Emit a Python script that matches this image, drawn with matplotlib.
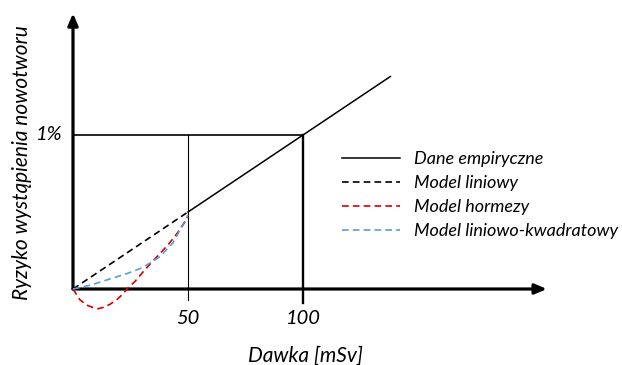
import matplotlib.pyplot as plt

# Data (dose in mSv, risk in %)
dose_emp = [50, 100, 138]
risk_emp = [0.5, 1.0, 1.38]

dose_lin = [0, 50]
risk_lin = [0, 0.5]

dose_horm = [0, 3, 6, 8.7, 11, 13, 16, 19, 21.5, 23.5, 27, 30.4, 34, 37.8, 41.5, 45.2, 48, 50]
risk_horm = [0, -0.07, -0.105, -0.12, -0.128, -0.12, -0.1, -0.07, -0.035, 0.0, 0.05, 0.11, 0.17, 0.23, 0.29, 0.36, 0.42, 0.47]

dose_lq = [0, 4, 8.7, 16, 23.5, 30.4, 37.8, 43.5, 47.8, 50]
risk_lq = [0, 0.012, 0.03, 0.065, 0.1, 0.14, 0.21, 0.30, 0.42, 0.48]

x_ticks = [50, 100]
x_tick_labels = ['50', '100']
ref_risk = 1.0

plt.rcParams['font.family'] = ['Lato', 'DejaVu Sans']

fig = plt.figure(figsize=(6.22, 3.65), dpi=100)
ax = fig.add_axes([0, 0, 1, 1])
ax.set_xlim(-73 / 2.3, (622 - 73) / 2.3)
ax.set_ylim(-(365 - 289) / 154, 289 / 154)
ax.axis('off')

# axes with arrows
arrow = dict(arrowstyle='-|>,head_length=0.7,head_width=0.3', color='black', lw=2.3,
             shrinkA=0, shrinkB=0)
ax.annotate('', xy=(206, 0), xytext=(0, 0), arrowprops=arrow)
ax.annotate('', xy=(0, 1.79), xytext=(0, 0), arrowprops=arrow)

# guide lines
ax.plot([0, 100], [ref_risk, ref_risk], color='black', lw=1.2, zorder=2)
ax.plot([100, 100], [-0.09, ref_risk], color='black', lw=1.7, zorder=2)
ax.plot([50, 50], [-0.07, ref_risk], color='black', lw=0.8, zorder=2)

dash = (0, (4, 2.5))
l1, = ax.plot(dose_emp, risk_emp, color='black', lw=1.1, label='Dane empiryczne', zorder=3)
l2, = ax.plot(dose_lin, risk_lin, color='black', lw=1.2, linestyle=dash, label='Model liniowy', zorder=3)
l3, = ax.plot(dose_horm, risk_horm, color='#d40000', lw=1.2, linestyle=dash, label='Model hormezy', zorder=3)
l4, = ax.plot(dose_lq, risk_lq, color='#5b9bd5', lw=1.2, linestyle=dash, label='Model liniowo-kwadratowy', zorder=3)

# labels
for xt, lab in zip(x_ticks, x_tick_labels):
    ax.text(xt, -0.19, lab, ha='center', va='center', fontsize=14.5, style='italic')
ax.text(-10.5, ref_risk, '1%', ha='center', va='center', fontsize=14.5, style='italic')
ax.text(101, -0.43, 'Dawka [mSv]', ha='center', va='center', fontsize=15, style='italic')
ax.text(-22, 0.82, 'Ryzyko wystąpienia nowotworu', ha='center', va='center', rotation=90,
        fontsize=15, style='italic')

leg = ax.legend(handles=[l1, l2, l3, l4], loc='upper left', bbox_to_anchor=(0.55, 0.586),
                frameon=False, prop={'size': 13, 'style': 'italic'}, handlelength=3.2,
                labelspacing=0.45, handletextpad=0.8, borderpad=0, borderaxespad=0)

fig.savefig('out.png', dpi=100)
